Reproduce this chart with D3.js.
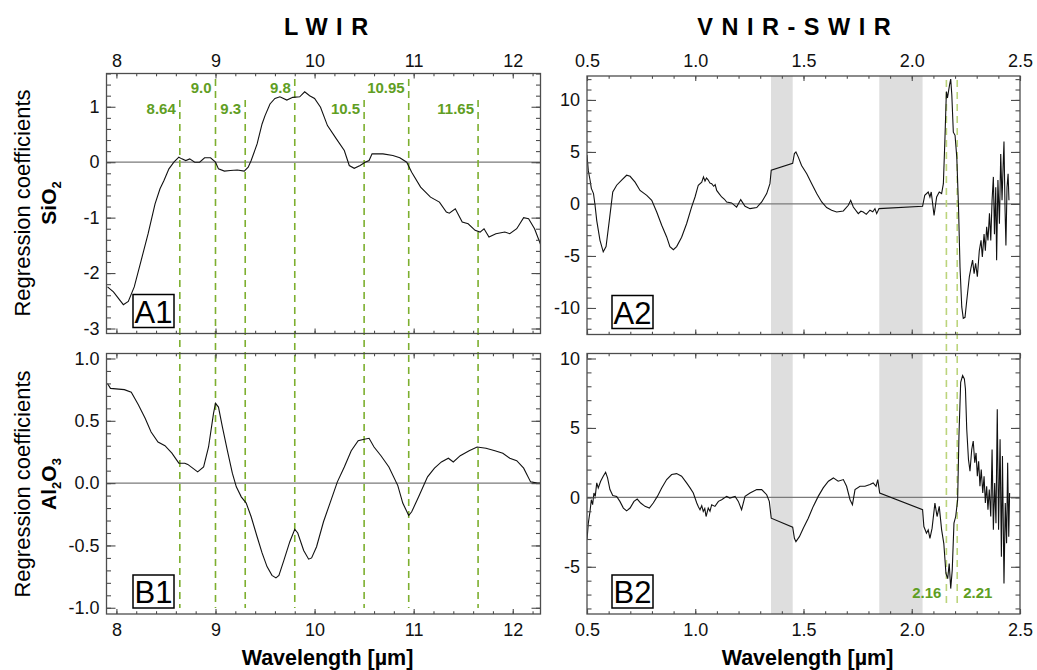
<!DOCTYPE html>
<html><head><meta charset="utf-8">
<script src="https://cdn.jsdelivr.net/npm/d3@7"></script>
<style>
body{margin:0;background:#fff}
svg{display:block}
text{font-family:"Liberation Sans",Arial,Helvetica,sans-serif}
</style>
</head><body>
<svg id="chart" width="1037" height="670"></svg>
<script>
// ---------------- DATA ----------------
const lwirTickValues = [8, 9, 10, 11, 12];
const vnirTickValues = [0.5, 1.0, 1.5, 2.0, 2.5];
const sio2YTicks = [-3, -2, -1, 0, 1];
const al2o3YTicks = [-1.0, -0.5, 0.0, 0.5, 1.0];
const a2YTicks = [-10, -5, 0, 5, 10];
const b2YTicks = [-5, 0, 5, 10];

const lwirMarkers = [8.64, 9.0, 9.3, 9.8, 10.5, 10.95, 11.65];
const lwirMarkerLabels = ["8.64", "9.0", "9.3", "9.8", "10.5", "10.95", "11.65"];
const lwirMarkerRow = [1, 0, 1, 0, 1, 0, 1];
const vnirMarkers = [2.16, 2.21];
const vnirMarkerLabels = ["2.16", "2.21"];
const waterBands = [[1.35, 1.45], [1.85, 2.05]];

// A1: SiO2 LWIR
const sio2LwirWl = [7.91,7.97,8.07,8.12,8.18,8.25,8.32,8.39,8.44,8.48,8.53,8.58,8.63,8.66,8.70,8.74,8.79,8.84,8.89,8.95,9.0,9.03,9.09,9.15,9.22,9.29,9.33,9.36,9.42,9.47,9.5,9.55,9.6,9.65,9.72,9.78,9.85,9.9,9.95,10.0,10.06,10.13,10.22,10.3,10.35,10.4,10.46,10.51,10.55,10.58,10.69,10.79,10.86,10.93,10.98,11.07,11.17,11.26,11.33,11.36,11.42,11.49,11.55,11.62,11.67,11.71,11.76,11.83,11.92,11.97,12.04,12.11,12.16,12.22,12.28];
const sio2LwirCoef = [-2.25,-2.34,-2.57,-2.51,-2.25,-1.77,-1.29,-0.75,-0.48,-0.33,-0.12,0.0,0.09,0.06,0.03,0.06,0.0,0.0,0.08,0.08,0.0,-0.12,-0.16,-0.15,-0.14,-0.16,-0.09,0.03,0.33,0.69,0.84,1.05,1.15,1.18,1.12,1.17,1.18,1.27,1.2,1.15,0.99,0.66,0.42,0.21,-0.06,-0.11,-0.06,0.0,0.03,0.15,0.15,0.12,0.08,0.0,-0.18,-0.45,-0.63,-0.72,-0.9,-0.92,-0.84,-1.08,-1.11,-1.23,-1.26,-1.2,-1.35,-1.29,-1.26,-1.29,-1.2,-1.0,-1.02,-1.2,-1.48];

// B1: Al2O3 LWIR
const al2o3LwirWl = [7.91,7.94,8.08,8.15,8.22,8.29,8.35,8.42,8.49,8.56,8.63,8.69,8.72,8.77,8.82,8.88,8.93,8.98,9.0,9.03,9.07,9.12,9.17,9.21,9.26,9.31,9.36,9.42,9.47,9.52,9.57,9.61,9.64,9.69,9.75,9.8,9.83,9.89,9.94,9.97,10.02,10.09,10.16,10.23,10.3,10.37,10.44,10.49,10.55,10.6,10.67,10.75,10.84,10.89,10.95,10.98,11.05,11.14,11.21,11.28,11.35,11.4,11.47,11.56,11.64,11.73,11.82,11.9,11.97,12.04,12.11,12.18,12.25,12.28];
const al2o3LwirCoef = [0.80,0.76,0.75,0.73,0.63,0.52,0.41,0.33,0.30,0.24,0.16,0.16,0.15,0.12,0.09,0.13,0.29,0.56,0.64,0.61,0.45,0.26,0.08,-0.03,-0.11,-0.16,-0.27,-0.43,-0.56,-0.67,-0.74,-0.76,-0.74,-0.62,-0.47,-0.37,-0.40,-0.54,-0.61,-0.60,-0.51,-0.31,-0.15,0.01,0.13,0.26,0.34,0.35,0.36,0.29,0.22,0.13,-0.02,-0.16,-0.26,-0.23,-0.11,0.05,0.12,0.17,0.20,0.17,0.22,0.26,0.29,0.28,0.26,0.24,0.20,0.18,0.12,0.01,0.0,0.0];

// A2: SiO2 VNIR-SWIR
const sio2VnirWl = [0.5,0.506,0.514,0.52,0.53,0.537,0.545,0.56,0.575,0.588,0.603,0.619,0.637,0.66,0.683,0.699,0.722,0.745,0.776,0.799,0.822,0.845,0.868,0.883,0.899,0.914,0.937,0.96,0.983,0.999,1.014,1.03,1.038,1.045,1.052,1.06,1.068,1.076,1.085,1.092,1.099,1.11,1.122,1.135,1.145,1.168,1.191,1.21,1.23,1.253,1.284,1.307,1.33,1.345,1.351,1.45,1.458,1.465,1.476,1.491,1.515,1.538,1.561,1.584,1.607,1.63,1.653,1.684,1.707,1.718,1.73,1.753,1.765,1.776,1.79,1.807,1.82,1.83,1.838,1.849,2.05,2.06,2.076,2.084,2.09,2.103,2.115,2.127,2.138,2.146,2.153,2.16,2.165,2.175,2.18,2.185,2.192,2.2,2.208,2.216,2.223,2.231,2.238,2.246,2.254,2.266,2.274,2.281,2.288,2.295,2.303,2.312,2.32,2.326,2.334,2.34,2.346,2.352,2.359,2.365,2.371,2.377,2.382,2.388,2.392,2.398,2.405,2.411,2.417,2.422,2.426,2.431,2.435,2.44,2.445,2.449];
const sio2VnirCoef = [4.7,3.2,2.3,1.5,1.0,-0.1,-1.6,-3.5,-4.6,-4.1,-1.6,1.15,1.8,2.3,2.76,2.66,2.1,1.3,0.83,0.35,-0.77,-2.05,-3.17,-4.1,-4.4,-4.1,-3.2,-1.9,-0.3,0.67,1.8,2.1,2.6,2.2,2.5,2.3,2.0,1.95,1.7,1.85,1.3,1.0,0.67,0.45,0.19,0.1,-0.3,0.42,-0.22,-0.45,-0.35,0.19,1.0,1.95,3.24,3.9,4.84,5.0,4.5,3.7,2.9,1.95,1.0,0.19,-0.35,-0.6,-0.77,-0.67,-0.13,0.35,-0.3,-0.93,-0.7,-0.77,-1.0,-0.6,-0.75,-0.45,-0.93,-0.45,-0.22,0.83,1.15,0.67,1.15,-1.1,0.67,1.15,1.0,1.95,6.1,10.8,10.2,11.5,12.0,10.5,6.9,6.6,4.5,-0.3,-6.1,-9.9,-11.0,-10.9,-9.3,-7.0,-6.1,-5.4,-6.7,-5.7,-7.0,-4.5,-3.5,-5.1,-2.9,-4.5,-2.2,-3.5,-0.9,-3.5,0.35,2.6,-2.9,1.6,-5.4,2.3,-1.9,4.8,0.35,3.6,6.0,-0.6,-4.0,1.6,2.9,0.35];

// B2: Al2O3 VNIR-SWIR
const al2o3VnirWl = [0.5,0.506,0.514,0.52,0.526,0.532,0.538,0.545,0.552,0.563,0.575,0.586,0.595,0.606,0.619,0.637,0.652,0.668,0.683,0.699,0.717,0.732,0.748,0.768,0.788,0.806,0.825,0.845,0.868,0.891,0.914,0.937,0.96,0.976,0.991,1.007,1.015,1.022,1.03,1.037,1.044,1.05,1.06,1.068,1.076,1.091,1.107,1.122,1.145,1.16,1.184,1.199,1.214,1.23,1.253,1.284,1.307,1.33,1.342,1.351,1.45,1.458,1.465,1.481,1.499,1.522,1.545,1.568,1.591,1.615,1.638,1.66,1.684,1.699,1.715,1.726,1.738,1.761,1.784,1.807,1.822,1.835,1.843,1.852,2.05,2.056,2.068,2.076,2.084,2.094,2.107,2.117,2.127,2.138,2.148,2.158,2.166,2.173,2.18,2.187,2.195,2.203,2.212,2.218,2.226,2.235,2.243,2.248,2.254,2.262,2.269,2.277,2.284,2.291,2.297,2.303,2.309,2.315,2.321,2.328,2.334,2.34,2.346,2.352,2.358,2.365,2.371,2.377,2.383,2.389,2.395,2.401,2.408,2.414,2.419,2.426,2.432,2.438,2.443,2.448,2.452];
const al2o3VnirCoef = [-3.07,-1.86,-1.0,-0.17,-0.53,0.31,0.07,1.04,0.68,1.16,1.52,1.81,1.4,0.56,0.14,0.07,-0.29,-0.77,-0.97,-0.77,-0.29,-0.12,-0.41,-0.65,-0.77,-0.41,0.07,0.68,1.28,1.64,1.71,1.52,1.04,0.68,0.31,-0.41,-0.7,-0.89,-0.6,-1.01,-0.8,-1.38,-0.77,-1.0,-0.53,-0.65,-0.29,-0.17,0.07,-0.05,0.07,-0.29,-0.89,0.07,0.31,0.56,0.56,0.19,-0.29,-1.5,-2.15,-2.95,-3.19,-2.83,-2.22,-1.5,-0.65,0.07,0.68,1.16,1.4,1.16,1.28,0.8,-0.17,-0.53,0.56,0.8,0.8,0.92,1.04,0.8,1.28,0.31,-0.89,-2.1,-2.58,-2.34,-2.95,-2.22,-0.41,-1.38,-0.65,-2.34,-3.31,-5.48,-5.85,-4.76,-6.57,-5.24,-1.86,-1.38,-0.17,4.42,8.28,8.77,8.53,7.8,4.9,2.73,1.88,3.45,4.06,2.49,3.2,1.52,2.6,0.8,2.0,0.31,1.52,-0.41,0.8,-0.89,0.56,-1.38,3.45,-2.34,1.04,-1.86,6.35,-2.34,4.18,-4.28,2.97,-6.2,-0.41,-3.31,2.49,-2.83,0.31];

// ---------------- LAYOUT ----------------
const svg = d3.select("#chart");
const LX = [106.5, 540.5], RX = [587, 1020];
const hyph = f => v => f(v).replace("\u2212", "-");
const panels = [
  {id:"A1", x:LX, y:[73.5, 333.5], xd:[7.9, 12.28], yd:[-3.09, 1.6], xt:lwirTickValues, xm:0.2, yt:sio2YTicks, ym:0.2, yf:hyph(d3.format("d")), xf:d3.format("d"), top:true,
   wl:sio2LwirWl, cf:sio2LwirCoef},
  {id:"B1", x:LX, y:[353.5, 614], xd:[7.9, 12.28], yd:[-1.05, 1.04], xt:lwirTickValues, xm:0.2, yt:al2o3YTicks, ym:0.1, yf:hyph(d3.format(".1f")), xf:d3.format("d"), top:false,
   wl:al2o3LwirWl, cf:al2o3LwirCoef},
  {id:"A2", x:RX, y:[76, 334.5], xd:[0.5, 2.5], yd:[-12.55, 12.3], xt:vnirTickValues, xm:0.1, yt:a2YTicks, ym:1, yf:hyph(d3.format("d")), xf:d3.format(".1f"), top:true,
   wl:sio2VnirWl, cf:sio2VnirCoef, bands:true},
  {id:"B2", x:RX, y:[353.5, 614], xd:[0.5, 2.5], yd:[-8.4, 10.36], xt:vnirTickValues, xm:0.1, yt:b2YTicks, ym:1, yf:hyph(d3.format("d")), xf:d3.format(".1f"), top:false,
   wl:al2o3VnirWl, cf:al2o3VnirCoef, bands:true}
];
const frameColor = "#4d4d4d";
const tickFont = 18;

function minorTicks(dom, step) {
  const out = [];
  const s = Math.ceil(dom[0]/step - 1e-9), e = Math.floor(dom[1]/step + 1e-9);
  for (let i = s; i <= e; i++) out.push(+(i*step).toFixed(4));
  return out;
}

const defs = svg.append("defs");
panels.forEach(p => {
  p.xs = d3.scaleLinear().domain(p.xd).range(p.x);
  p.ys = d3.scaleLinear().domain(p.yd).range([p.y[1], p.y[0]]);
  defs.append("clipPath").attr("id", "clip" + p.id).append("rect")
    .attr("x", p.x[0]).attr("y", p.y[0]).attr("width", p.x[1]-p.x[0]).attr("height", p.y[1]-p.y[0]);
});

// water bands
panels.filter(p => p.bands).forEach(p => {
  svg.append("g").selectAll("rect").data(waterBands).join("rect")
    .attr("x", d => p.xs(d[0])).attr("width", d => p.xs(d[1]) - p.xs(d[0]))
    .attr("y", p.y[0]).attr("height", p.y[1]-p.y[0]).attr("fill", "#dedede");
});

// zero lines
panels.forEach(p => {
  svg.append("line").attr("x1", p.x[0]).attr("x2", p.x[1])
    .attr("y1", p.ys(0)).attr("y2", p.ys(0)).attr("stroke", "#7a7a7a").attr("stroke-width", 1.2);
});

// LWIR marker lines
const A1 = panels[0], B1 = panels[1], A2 = panels[2], B2 = panels[3];
const rowY = [87, 108];
svg.append("g").selectAll("line").data(lwirMarkers).join("line")
  .attr("x1", d => A1.xs(d)).attr("x2", d => A1.xs(d))
  .attr("y1", (d,i) => rowY[lwirMarkerRow[i]] - 8).attr("y2", B1.y[1] - 6)
  .attr("stroke", "#7daf2f").attr("stroke-width", 1.6).attr("stroke-dasharray", "7,5");
svg.append("g").selectAll("text").data(lwirMarkers).join("text")
  .attr("x", d => A1.xs(d) - 4).attr("y", (d,i) => rowY[lwirMarkerRow[i]] + 5.5)
  .attr("text-anchor", "end").attr("font-size", 15).attr("font-weight", "bold")
  .attr("fill", "#5f9e23").text((d,i) => lwirMarkerLabels[i]);

// VNIR marker lines
svg.append("g").selectAll("line").data(vnirMarkers).join("line")
  .attr("x1", d => A2.xs(d)).attr("x2", d => A2.xs(d))
  .attr("y1", A2.y[0] + 4).attr("y2", B2.y[1] - 6)
  .attr("stroke", "#bcd47c").attr("stroke-width", 1.6).attr("stroke-dasharray", "7,5");
svg.append("g").selectAll("text").data(vnirMarkers).join("text")
  .attr("x", (d,i) => i === 0 ? A2.xs(d) - 5 : A2.xs(d) + 6).attr("y", 597.5)
  .attr("text-anchor", (d,i) => i === 0 ? "end" : "start").attr("font-size", 15).attr("font-weight", "bold")
  .attr("fill", "#5f9e23").text((d,i) => vnirMarkerLabels[i]);

// curves
panels.forEach(p => {
  const pts = p.wl.map((w,i) => [w, p.cf[i]]);
  svg.append("path").datum(pts)
    .attr("clip-path", "url(#clip" + p.id + ")")
    .attr("d", d3.line().x(d => p.xs(d[0])).y(d => p.ys(d[1])))
    .attr("fill", "none").attr("stroke", "#111").attr("stroke-width", 1.1);
});

// axes
panels.forEach(p => {
  const h = p.y[1] - p.y[0], w = p.x[1] - p.x[0];
  const xMaj = 5, xMin = 2.8, yMaj = 9, yMin = 4.5;
  const styleAxis = g => { g.select(".domain").remove(); g.selectAll("line").attr("stroke", frameColor).attr("stroke-width", 1.1);
    g.selectAll("text").attr("font-size", tickFont).attr("fill", "#111").attr("font-family", '"Liberation Sans",Arial,sans-serif'); };
  // bottom
  svg.append("g").attr("transform", `translate(0,${p.y[1]})`)
    .call(d3.axisBottom(p.xs).tickValues(minorTicks(p.xd, p.xm)).tickSize(-xMin).tickFormat("")).call(styleAxis);
  svg.append("g").attr("transform", `translate(0,${p.y[1]})`)
    .call(d3.axisBottom(p.xs).tickValues(p.xt).tickSize(-xMaj).tickPadding(9.5).tickFormat(p.top ? "" : p.xf)).call(styleAxis);
  // top
  svg.append("g").attr("transform", `translate(0,${p.y[0]})`)
    .call(d3.axisTop(p.xs).tickValues(minorTicks(p.xd, p.xm)).tickSize(-xMin).tickFormat("")).call(styleAxis);
  svg.append("g").attr("transform", `translate(0,${p.y[0]})`)
    .call(d3.axisTop(p.xs).tickValues(p.xt).tickSize(-xMaj).tickPadding(p.y[0] - 66.5).tickFormat(p.top ? p.xf : "")).call(styleAxis);
  // left
  svg.append("g").attr("transform", `translate(${p.x[0]},0)`)
    .call(d3.axisLeft(p.ys).tickValues(minorTicks(p.yd, p.ym)).tickSize(-yMin).tickFormat("")).call(styleAxis);
  svg.append("g").attr("transform", `translate(${p.x[0]},0)`)
    .call(d3.axisLeft(p.ys).tickValues(p.yt).tickSize(-yMaj).tickPadding(7).tickFormat(p.yf)).call(styleAxis);
  // right
  svg.append("g").attr("transform", `translate(${p.x[1]},0)`)
    .call(d3.axisRight(p.ys).tickValues(minorTicks(p.yd, p.ym)).tickSize(-yMin).tickFormat("")).call(styleAxis);
  svg.append("g").attr("transform", `translate(${p.x[1]},0)`)
    .call(d3.axisRight(p.ys).tickValues(p.yt).tickSize(-yMaj).tickFormat("")).call(styleAxis);
  // frame
  svg.append("rect").attr("x", p.x[0]).attr("y", p.y[0]).attr("width", w).attr("height", h)
    .attr("fill", "none").attr("stroke", frameColor).attr("stroke-width", 1.3);
  // panel label box
  const bx = p.x === LX ? 133 : 612;
  const by = p.y[1] - 39;
  svg.append("text").attr("x", bx + 20.5).attr("y", by + 28).attr("text-anchor", "middle")
    .attr("font-size", 31).attr("fill", "#000").text(p.id);
  svg.append("rect").attr("x", bx).attr("y", by).attr("width", 41).attr("height", 33)
    .attr("fill", "none").attr("stroke", "#000").attr("stroke-width", 1.5);
});

// titles
const titleSpacing = 8.5;
svg.append("text").attr("x", 326 + titleSpacing/2).attr("y", 35).attr("text-anchor", "middle")
  .attr("font-size", 23.5).attr("font-weight", "bold").attr("letter-spacing", titleSpacing).text("LWIR");
svg.append("text").attr("x", 794 + titleSpacing/2).attr("y", 35).attr("text-anchor", "middle")
  .attr("font-size", 23.5).attr("font-weight", "bold").attr("letter-spacing", titleSpacing).text("VNIR-SWIR");

// x axis titles
[[LX, "Wavelength [µm]"], [RX, "Wavelength [µm]"]].forEach(([r, s]) => {
  svg.append("text").attr("x", (r[0]+r[1])/2 + 4).attr("y", 665).attr("text-anchor", "middle")
    .attr("font-size", 21.5).attr("font-weight", "bold").text(s);
});

// y axis titles
function yTitle(cy, chem) {
  const g = svg.append("g").attr("transform", `translate(0,${cy})`);
  g.append("text").attr("transform", "translate(30,0) rotate(-90)").attr("text-anchor", "middle")
    .attr("font-size", 22).text("Regression coefficients");
  const t = g.append("text").attr("transform", "translate(56,0) rotate(-90)").attr("text-anchor", "middle")
    .attr("font-size", 21).attr("font-weight", "bold");
  chem.forEach(([s, sub], i) => {
    const ts = t.append("tspan").text(s);
    if (sub) ts.attr("font-size", 13).attr("dy", 5);
    else if (i > 0 && chem[i-1][1]) ts.attr("dy", -5);
  });
}
yTitle(203, [["SiO", false], ["2", true]]);
yTitle(484, [["Al", false], ["2", true], ["O", false], ["3", true]]);
</script>
</body></html>
